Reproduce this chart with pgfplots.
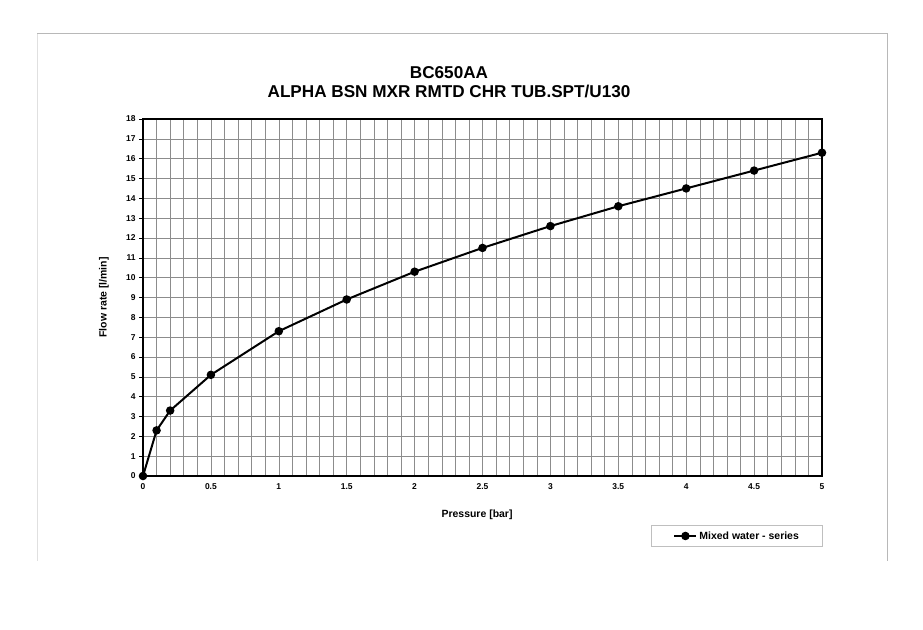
\documentclass[border=0pt]{standalone}
\usepackage{fontspec}
\setmainfont{Liberation Sans}
\usepackage{pgfplots}
\pgfplotsset{compat=1.18}

\begin{document}
\begin{tikzpicture}
\useasboundingbox (0,0) rectangle (923bp,630bp);
% outer frame
\draw[black!12, line width=1bp] (37bp,69bp) -- (37bp,597bp);
\draw[black!28, line width=0.8bp] (37bp,597bp) -- (887bp,597bp) -- (887bp,69bp);
\node[font=\bfseries\fontsize{17.2}{19}\selectfont, align=center] at (449bp,547.5bp)
  {BC650AA\\ALPHA BSN MXR RMTD CHR TUB.SPT/U130};
\begin{axis}[
  at={(143bp,154bp)}, anchor=south west,
  scale only axis, width=679bp, height=357bp,
  xmin=0, xmax=5, ymin=0, ymax=18,
  xtick={0,0.5,1,1.5,2,2.5,3,3.5,4,4.5,5},
  ytick={0,1,...,18},
  minor x tick num=4,
  grid=both,
  major grid style={black!45, line width=0.5bp},
  minor grid style={black!45, line width=0.5bp},
  axis line style={black, line width=1.8bp},
  tick align=outside, major tick length=4bp, minor tick length=0pt,
  ytick pos=left,
  xtick style={draw=none},
  ytick style={black, line width=0.6bp},
  /pgf/number format/assume math mode=true,
  ticklabel style={font=\bfseries\fontsize{8.5}{10}\selectfont},
  xlabel={Pressure [bar]}, ylabel={Flow rate [l/min]},
  label style={font=\bfseries\fontsize{10.5}{12}\selectfont},
  xlabel style={at={(axis description cs:0.492,-0.109)}, anchor=center},
  ylabel style={at={(axis description cs:-0.0574,0.5)}, anchor=center, rotate=0},
  legend style={at={(axis description cs:0.875,-0.168)}, anchor=center,
    draw=black!25, line width=0.8bp, inner xsep=22bp, inner ysep=4bp,
    font=\bfseries\fontsize{10.5}{12}\selectfont},
  legend cell align=left,
  legend image code/.code={\draw[mark repeat=2,mark phase=2,#1]
    plot coordinates {(0cm,0cm) (0.39cm,0cm) (0.78cm,0cm)};},
]
\addplot[black, line width=2bp, mark=*, mark size=3.2bp,
  mark options={solid}] coordinates {
  (0,0) (0.1,2.3) (0.2,3.3) (0.5,5.1) (1,7.3) (1.5,8.9) (2,10.3)
  (2.5,11.5) (3,12.6) (3.5,13.6) (4,14.5) (4.5,15.4) (5,16.3)};
\addlegendentry{Mixed water - series}
\end{axis}
\end{tikzpicture}
\end{document}
